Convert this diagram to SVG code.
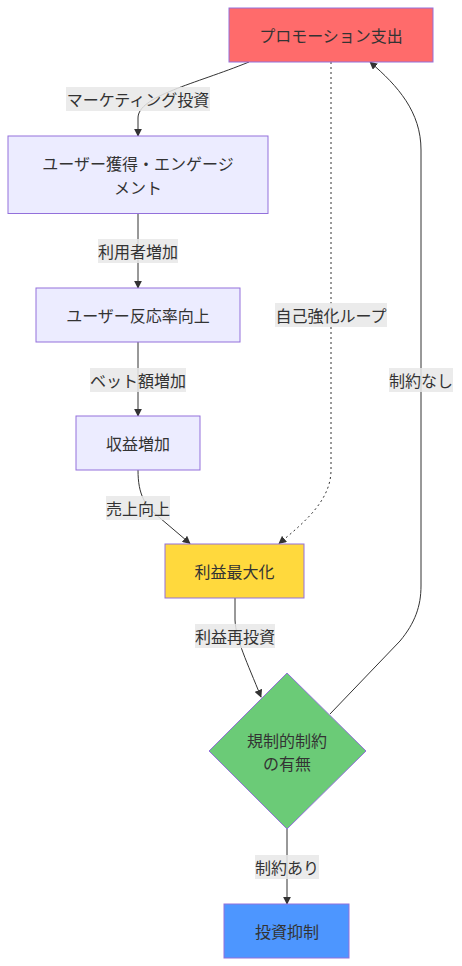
<svg xmlns="http://www.w3.org/2000/svg" width="462" height="966" viewBox="0 0 462 966">
<defs>
<marker id="arr" viewBox="0 0 10 10" refX="9" refY="5" markerWidth="8" markerHeight="8" markerUnits="userSpaceOnUse" orient="auto">
<path d="M0,0 L10,5 L0,10 z" fill="#333"/>
</marker>
</defs>
<style>
text{font-family:"Noto Sans CJK JP","Noto Sans",sans-serif;font-size:16px;fill:#333;text-anchor:middle;dominant-baseline:central}
.node{stroke:#9370DB;stroke-width:1}
.edge{fill:none;stroke:#333;stroke-width:1;marker-end:url(#arr)}
.dot{stroke-dasharray:2 3}
.lbg{fill:#e8e8e8;opacity:0.85}
</style>
<rect width="462" height="966" fill="#fff"/>
<g id="edges">
<path class="edge" d="M249,62 C195,84 138,96 138,118 L138,136"/>
<path class="edge" d="M138,213.5 L138,288"/>
<path class="edge" d="M138,342 L138,416"/>
<path class="edge" d="M138,470 C138,495 145,506 160,518 L190,543.5"/>
<path class="edge dot" d="M331,62 L331,470 C331,500 305,522 279,543.5"/>
<path class="edge" d="M235,598 L235,620 C236,640 247,662 261,697"/>
<path class="edge" d="M330,714 L400,641 C415,623 421,606 421,586 L421,150 C421,112 398,86 370,62"/>
<path class="edge" d="M287,829 L287,904"/>
</g>
<g id="edge-labels">
<rect class="lbg" x="66" y="87" width="144" height="24"/><text x="138" y="99">マーケティング投資</text>
<rect class="lbg" x="98" y="239" width="80" height="24"/><text x="138" y="251">利用者増加</text>
<rect class="lbg" x="90" y="368" width="96" height="24"/><text x="138" y="380">ベット額増加</text>
<rect class="lbg" x="106" y="496" width="64" height="24"/><text x="138" y="508">売上向上</text>
<rect class="lbg" x="275" y="303" width="112" height="24"/><text x="331" y="315">自己強化ループ</text>
<rect class="lbg" x="195" y="624" width="80" height="24"/><text x="235" y="636">利益再投資</text>
<rect class="lbg" x="389" y="368" width="64" height="24"/><text x="421" y="380">制約なし</text>
<rect class="lbg" x="255" y="855" width="64" height="24"/><text x="287" y="867">制約あり</text>
</g>
<g id="node-A">
<rect class="node" x="229" y="8" width="204" height="54" fill="#FF6B6B"/>
<text x="331" y="35">プロモーション支出</text>
</g>
<g id="node-B">
<rect class="node" x="8" y="136" width="260" height="77.5" fill="#ECECFF"/>
<text x="138" y="163">ユーザー獲得・エンゲージ</text>
<text x="138" y="187">メント</text>
</g>
<g id="node-C">
<rect class="node" x="36" y="288" width="204" height="54" fill="#ECECFF"/>
<text x="138" y="315">ユーザー反応率向上</text>
</g>
<g id="node-D">
<rect class="node" x="76" y="416" width="124" height="54" fill="#ECECFF"/>
<text x="138" y="443">収益増加</text>
</g>
<g id="node-E">
<rect class="node" x="165" y="544" width="139" height="54" fill="#FFD93D"/>
<text x="234.5" y="571">利益最大化</text>
</g>
<g id="node-F">
<polygon class="node" points="287,673 366,751 287,829 209,751" fill="#6BCB77"/>
<text x="287" y="740">規制的制約</text>
<text x="287" y="763">の有無</text>
</g>
<g id="node-G">
<rect class="node" x="224" y="904" width="125" height="54" fill="#4D96FF"/>
<text x="287" y="931">投資抑制</text>
</g>
</svg>
